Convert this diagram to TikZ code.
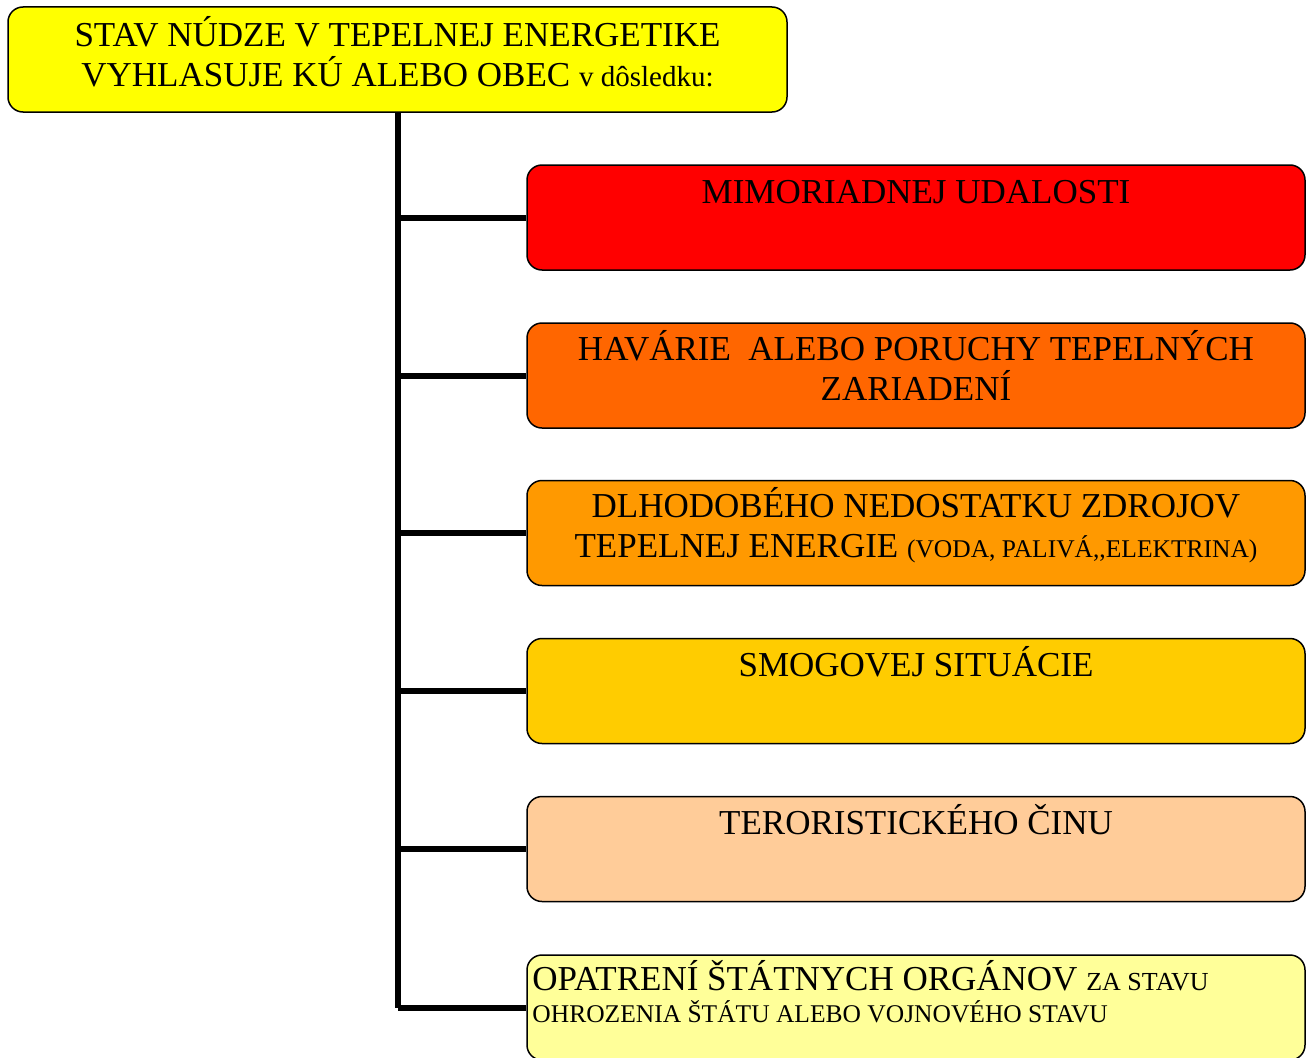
\documentclass[tikz,border=0pt]{standalone}
\usepackage{fontspec}
\setmainfont{Liberation Serif}
\usepackage{xcolor}
\usepackage{tikz}
\definecolor{hlavna}{RGB}{255,255,0}
\definecolor{cervena}{RGB}{255,0,0}
\definecolor{oranzova}{RGB}{255,102,0}
\definecolor{zlta}{RGB}{255,153,0}
\definecolor{zlatista}{RGB}{255,204,0}
\definecolor{telova}{RGB}{255,204,153}
\definecolor{svetla}{RGB}{255,255,153}
\newcommand{\velke}{\fontsize{35}{40}\selectfont}
\newcommand{\male}{\fontsize{25.5}{28}\selectfont}

\begin{document}
\begin{tikzpicture}[x=1pt,y=-1pt,
    stepbox/.style={draw,rounded corners=15pt,line width=1.5pt,minimum width=778pt,minimum height=105pt,inner sep=0pt},
    boxtext/.style={anchor=base,align=center,inner sep=0pt,font=\velke},
    trunk/.style={line width=6pt}]
    \useasboundingbox (0,0) rectangle (1311,1057);
    \node[stepbox,fill=hlavna,minimum width=779pt] (top) at (397.5,59.5) {};
    \node[boxtext] (topt) at ([yshift=-80pt]top.north) {STAV NÚDZE V TEPELNEJ ENERGETIKE\\VYHLASUJE KÚ ALEBO OBEC {\fontsize{29}{32}\selectfont v dôsledku:}};
    \node[stepbox,fill=cervena] (mim) at (916,217.5) {};
    \node[boxtext] (mimt) at ([yshift=-39pt]mim.north) {MIMORIADNEJ UDALOSTI};
    \node[stepbox,fill=oranzova] (hav) at (916,375.5) {};
    \node[boxtext] (havt) at ([yshift=-78pt]hav.north) {HAVÁRIE \ ALEBO PORUCHY TEPELNÝCH\\ZARIADENÍ};
    \node[stepbox,fill=zlta] (dlh) at (916,533) {};
    \node[boxtext] (dlht) at ([yshift=-78pt]dlh.north) {DLHODOBÉHO NEDOSTATKU ZDROJOV\\TEPELNEJ ENERGIE {\male (VODA, PALIVÁ,{},ELEKTRINA)}};
    \node[stepbox,fill=zlatista] (smo) at (916,691) {};
    \node[boxtext] (smot) at ([yshift=-39pt]smo.north) {SMOGOVEJ SITUÁCIE};
    \node[stepbox,fill=telova] (ter) at (916,849) {};
    \node[boxtext] (tert) at ([yshift=-39pt]ter.north) {TERORISTICKÉHO ČINU};
    \node[stepbox,fill=svetla] (opa) at (916,1007.5) {};
    \node[boxtext,anchor=base west,align=left,font=\fontsize{35}{32}\selectfont] (opat) at ([xshift=6pt,yshift=-68pt]opa.north west) {OPATRENÍ ŠTÁTNYCH ORGÁNOV {\fontsize{26}{28}\selectfont ZA STAVU}\\{\fontsize{25.5}{28}\selectfont OHROZENIA ŠTÁTU ALEBO VOJNOVÉHO STAVU}};
    \draw[trunk] (top.south) -- (top.south |- opa.west);
    \draw[trunk] (top.south |- mim.west) -- (mim.west);
    \draw[trunk] (top.south |- hav.west) -- (hav.west);
    \draw[trunk] (top.south |- dlh.west) -- (dlh.west);
    \draw[trunk] (top.south |- smo.west) -- (smo.west);
    \draw[trunk] (top.south |- ter.west) -- (ter.west);
    \draw[trunk] (top.south |- opa.west) -- (opa.west);
\end{tikzpicture}
\end{document}
